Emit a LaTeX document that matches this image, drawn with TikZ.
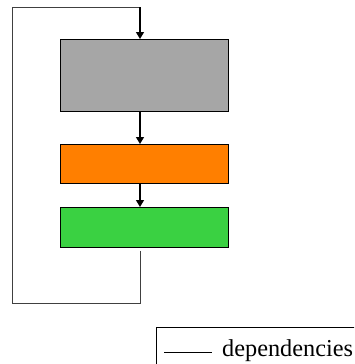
\documentclass[tikz,border=0pt]{standalone}
\usepackage{fontspec}
\setmainfont{Liberation Serif}
\usetikzlibrary{arrows.meta}
\definecolor{boxgray}{RGB}{166,166,166}
\definecolor{boxorange}{RGB}{255,127,0}
\definecolor{boxgreen}{RGB}{58,209,66}
\tikzset{
  blk/.style={draw=black, line width=0.8pt, minimum width=168pt, inner sep=0pt, anchor=north west},
  dep/.style={draw=black, line width=1.4pt, -{Triangle[length=7pt,width=8pt]}},
  loopline/.style={draw=black!75, line width=1pt},
}
\begin{document}
\begin{tikzpicture}[x=1pt,y=-1pt]
\useasboundingbox (0,0) rectangle (354,364);
\clip (0,0) rectangle (354,364);
\node[blk, fill=boxgray, minimum height=72pt] (g) at (60,39) {};
\node[blk, fill=boxorange, minimum height=39pt] (o) at (60,144) {};
\node[blk, fill=boxgreen, minimum height=40pt] (gr) at (60,207) {};
\coordinate (c1) at (140,303);
\coordinate (c2) at (12,303);
\coordinate (c3) at (12,7);
\coordinate (c4) at (140,7);
\draw[loopline] ([yshift=-3pt]c1 |- gr.south) -- (c1) -- (c2) -- (c3) -- (c4);
\draw[dep] (c4) -- (c4 |- g.north);
\draw[dep] (c4 |- g.south) -- (c4 |- o.north);
\draw[dep] (c4 |- o.south) -- (c4 |- gr.north);
% legend
\node[draw=black, line width=0.8pt, minimum width=220pt, minimum height=60pt, anchor=north west, inner sep=0pt] (leg) at (156,327) {};
\coordinate (l1) at (164,352);
\coordinate (l2) at (212,352);
\draw[black, line width=1pt] (l1) -- (l2);
\node[anchor=base west, inner sep=0pt, font=\fontsize{24.3}{27}\selectfont] (legtxt) at (222,356) {dependencies};
\end{tikzpicture}
\end{document}
